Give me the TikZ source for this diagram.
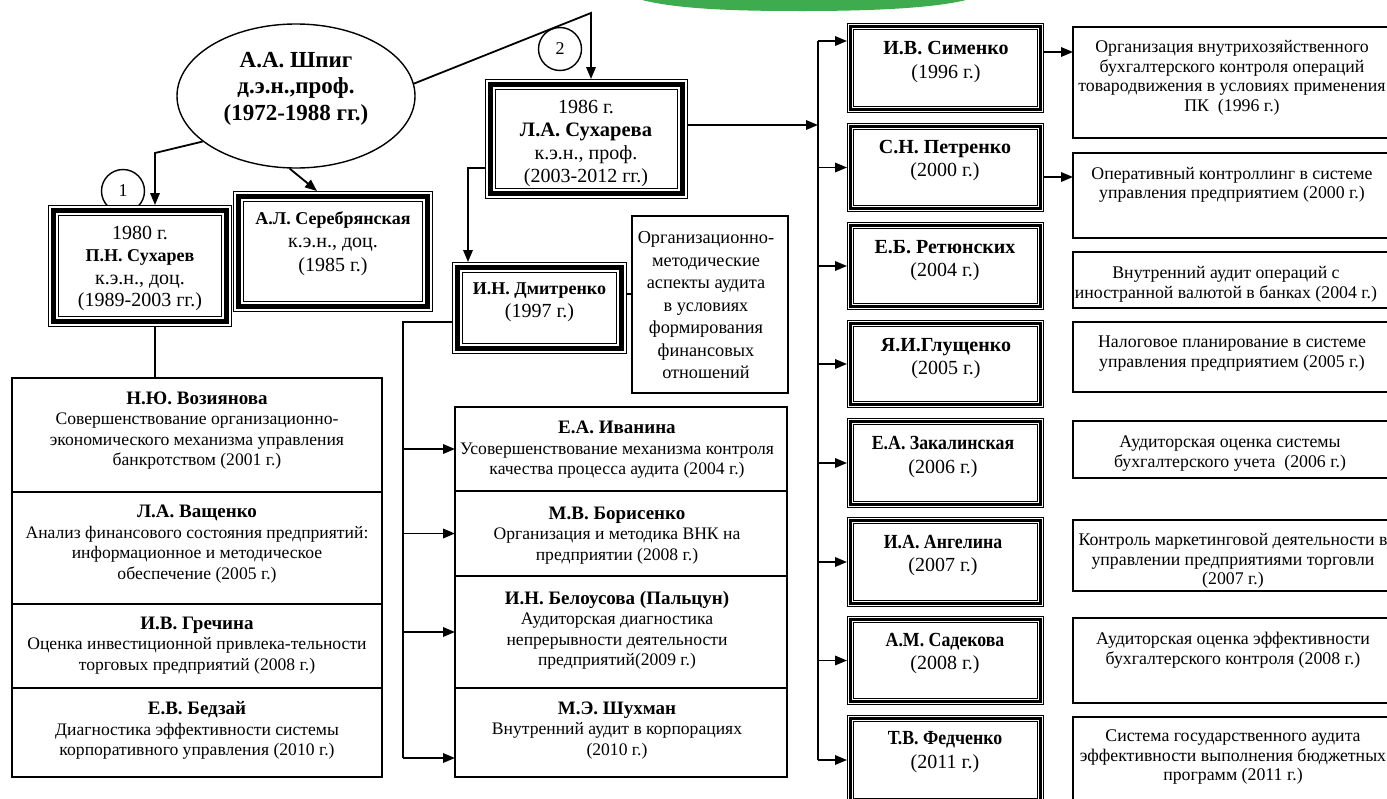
\documentclass[tikz,border=0pt]{standalone}
\usepackage{fontspec}
\usepackage{graphicx}
\setmainfont{Liberation Serif}
\usetikzlibrary{arrows.meta,calc,shapes.geometric}
\definecolor{swoosh}{RGB}{62,172,78}
\newcommand{\cnd}[1]{\scalebox{0.89}[1]{#1}}
\begin{document}
\begin{tikzpicture}[x=1pt,y=-1pt,
  heavybox/.style={draw=black, line width=5.5pt, inner sep=0pt, outer sep=5.5pt,
    preaction={draw=black, line width=11pt},
    preaction={draw=white, line width=8.5pt}},
  medbox/.style={draw=black, line width=3pt, inner sep=0pt, outer sep=3.5pt,
    preaction={draw=black, line width=7.4pt},
    preaction={draw=white, line width=5pt}},
  thinbox/.style={draw=black, line width=1.6pt, inner sep=0pt, outer sep=0pt},
  conn/.style={draw=black, line width=1.8pt},
  arr/.style={conn, -{Triangle[length=12pt,width=9.5pt]}},
  numc/.style={circle, draw=black, line width=1.4pt, minimum size=43pt, inner sep=0pt, font=\fontsize{18}{20}\selectfont},
  bigt/.style={align=center, inner sep=0pt, font=\fontsize{20}{22.5}\selectfont},
  autht/.style={align=center, inner sep=0pt, font=\fontsize{20}{23.5}\selectfont},
  desct/.style={align=center, inner sep=0pt, font=\fontsize{17.8}{19.6}\selectfont},
  stackt/.style={align=center, inner sep=0pt, font=\fontsize{17.6}{20.5}\selectfont}
]
\useasboundingbox (0,0) rectangle (1387,798);
\clip (0,0) rectangle (1387,798);
\fill[white] (0,0) rectangle (1387,798);

% green swoosh
\fill[swoosh] (642,0) .. controls (685,11) and (760,11) .. (805,11) .. controls (860,11) and (930,9) .. (966,0) -- cycle;

% ellipse and numbered circles
\node[ellipse, draw=black, line width=1.4pt, minimum width=238pt, minimum height=144pt, inner sep=0pt] (ell) at (296,96) {};
\node[align=center, inner sep=0pt, font=\fontsize{23}{26.5}\selectfont\bfseries] (ellt) at (296,88.5) {А.А. Шпиг\\д.э.н.,проф.\\(1972-1988 гг.)};
\node[numc] (c1) at (123,191) {1};
\node[numc] (c2) at (560,49) {2};

% heavy boxes
\node[heavybox, minimum width=173pt, minimum height=111pt] (suk) at (140,266) {};
\node[bigt] (sukt) at (140,268.5) {1980 г.\\{\fontsize{18}{22}\selectfont\bfseries П.Н. Сухарев}\\к.э.н., доц.\\(1989-2003 гг.)};
\node[heavybox, minimum width=189pt, minimum height=110pt] (ser) at (333,251.5) {};
\node[bigt, font=\fontsize{20}{23.5}\selectfont] (sert) at (333,243.5) {{\fontsize{18}{22}\selectfont\bfseries А.Л. Серебрянская}\\к.э.н., доц.\\(1985 г.)};
\node[heavybox, minimum width=192pt, minimum height=109pt] (lsuk) at (586.5,139) {};
\node[bigt, font=\fontsize{20}{23}\selectfont] (lsukt) at (586,143.5) {1986 г.\\{\fontsize{20.5}{22}\selectfont\bfseries Л.А. Сухарева}\\к.э.н., проф.\\(2003-2012 гг.)};
\node[heavybox, minimum width=164pt, minimum height=81pt] (dmi) at (539.5,308) {};
\node[bigt] (dmit) at (539.5,302) {{\fontsize{18}{22}\selectfont\bfseries И.Н. Дмитренко}\\(1997 г.)};

% org text box
\node[thinbox, minimum width=156pt, minimum height=177pt] (org) at (710,304.5) {};
\node[align=center, inner sep=0pt, font=\fontsize{18.3}{22.5}\selectfont] (orgt) at (706,305.5) {Организационно-\\методические\\аспекты аудита\\в условиях\\формирования\\финансовых\\отношений};

% left stacked boxes
\node[thinbox, minimum width=370pt, minimum height=114pt] (l1) at (197,435) {};
\node[thinbox, minimum width=370pt, minimum height=112pt] (l2) at (197,548) {};
\node[thinbox, minimum width=370pt, minimum height=84pt] (l3) at (197,646) {};
\node[thinbox, minimum width=370pt, minimum height=89pt] (l4) at (197,732.5) {};
\node[stackt] (l1t) at (197,430.5) {{\fontsize{19}{20}\selectfont\bfseries Н.Ю. Возиянова}\\Совершенствование организационно-\\экономического механизма управления\\банкротством (2001 г.)};
\node[stackt] (l2t) at (197,544) {{\fontsize{19}{20}\selectfont\bfseries Л.А. Ващенко}\\Анализ финансового состояния предприятий:\\информационное и методическое\\обеспечение (2005 г.)};
\node[stackt] (l3t) at (197,645.5) {{\fontsize{19}{20}\selectfont\bfseries И.В. Гречина}\\Оценка инвестиционной привлека-тельности\\торговых предприятий (2008 г.)};
\node[stackt] (l4t) at (197,730.5) {{\fontsize{19}{20}\selectfont\bfseries Е.В. Бедзай}\\Диагностика эффективности системы\\корпоративного управления (2010 г.)};

% middle stacked boxes
\node[thinbox, minimum width=332pt, minimum height=84pt] (m1) at (621,449) {};
\node[thinbox, minimum width=332pt, minimum height=85pt] (m2) at (621,533.5) {};
\node[thinbox, minimum width=332pt, minimum height=112pt] (m3) at (621,632) {};
\node[thinbox, minimum width=332pt, minimum height=89pt] (m4) at (621,732.5) {};
\node[stackt] (m1t) at (617,450) {{\fontsize{19}{20}\selectfont\bfseries Е.А. Иванина}\\Усовершенствование механизма контроля\\качества процесса аудита (2004 г.)};
\node[stackt] (m2t) at (617,535.5) {{\fontsize{19}{20}\selectfont\bfseries М.В. Борисенко}\\Организация и методика ВНК на\\предприятии (2008 г.)};
\node[stackt] (m3t) at (617,630.5) {{\fontsize{19}{20}\selectfont\bfseries И.Н. Белоусова (Пальцун)}\\Аудиторская диагностика\\непрерывности деятельности\\предприятий(2009 г.)};
\node[stackt] (m4t) at (617,730.5) {{\fontsize{19}{20}\selectfont\bfseries М.Э. Шухман}\\Внутренний аудит в корпорациях\\(2010 г.)};

% author boxes (right)
\node[medbox, minimum width=190pt, minimum height=83pt] (a1) at (945.5,68) {};
\node[medbox, minimum width=190pt, minimum height=82pt] (a2) at (945.5,167.5) {};
\node[medbox, minimum width=190pt, minimum height=81pt] (a3) at (945.5,266) {};
\node[medbox, minimum width=190pt, minimum height=81pt] (a4) at (945.5,364) {};
\node[medbox, minimum width=190pt, minimum height=83pt] (a5) at (945.5,463) {};
\node[medbox, minimum width=190pt, minimum height=83pt] (a6) at (945.5,562) {};
\node[medbox, minimum width=190pt, minimum height=82pt] (a7) at (945.5,660.5) {};
\node[medbox, minimum width=190pt, minimum height=83pt] (a8) at (945.5,760) {};
\node[autht] (a1t) at (946,62) {\textbf{И.В. Сименко}\\(1996 г.)};
\node[autht] (a2t) at (945,160.5) {\textbf{С.Н. Петренко}\\(2000 г.)};
\node[autht] (a3t) at (945,260.5) {\textbf{Е.Б. Ретюнских}\\(2004 г.)};
\node[autht] (a4t) at (946,358.5) {\textbf{Я.И.Глущенко}\\(2005 г.)};
\node[autht] (a5t) at (943,457) {\cnd{\textbf{Е.А. Закалинская}}\\(2006 г.)};
\node[autht] (a6t) at (943,555.5) {\cnd{\textbf{И.А. Ангелина}}\\(2007 г.)};
\node[autht] (a7t) at (945,653.5) {\cnd{\textbf{А.М. Садекова}}\\(2008 г.)};
\node[autht] (a8t) at (945,752) {\cnd{\textbf{Т.В. Федченко}}\\(2011 г.)};

% description boxes (far right)
\node[thinbox, minimum width=319pt, minimum height=111pt] (d1) at (1232.5,82.5) {};
\node[thinbox, minimum width=319pt, minimum height=85pt] (d2) at (1232.5,195.5) {};
\node[thinbox, minimum width=319pt, minimum height=56pt] (d3) at (1232.5,280) {};
\node[thinbox, minimum width=319pt, minimum height=70pt] (d4) at (1232.5,357) {};
\node[thinbox, minimum width=319pt, minimum height=57pt] (d5) at (1232.5,449.5) {};
\node[thinbox, minimum width=319pt, minimum height=71pt] (d6) at (1232.5,555.5) {};
\node[thinbox, minimum width=319pt, minimum height=85pt] (d7) at (1232.5,660.5) {};
\node[thinbox, minimum width=319pt, minimum height=93pt] (d8) at (1232.5,763.5) {};
\node[desct] (d1t) at (1232,78) {Организация внутрихозяйственного\\бухгалтерского контроля операций\\товародвижения в условиях применения\\ПК~~(1996 г.)};
\node[desct] (d2t) at (1232,185) {Оперативный контроллинг в системе\\управления предприятием (2000 г.)};
\node[desct] (d3t) at (1226,284.5) {Внутренний аудит операций с\\иностранной валютой в банках (2004 г.)};
\node[desct] (d4t) at (1232,353.5) {Налоговое планирование в системе\\управления предприятием (2005 г.)};
\node[desct] (d5t) at (1230,453.5) {Аудиторская оценка системы\\бухгалтерского учета~~(2006 г.)};
\node[desct] (d6t) at (1233,561) {Контроль маркетинговой деятельности в\\управлении предприятиями торговли\\(2007 г.)};
\node[desct] (d7t) at (1233,650) {Аудиторская оценка эффективности\\бухгалтерского контроля (2008 г.)};
\node[desct] (d8t) at (1233,757) {Система государственного аудита\\эффективности выполнения бюджетных\\программ (2011 г.)};

% helper coordinates
\coordinate (k1) at (155,153);
\coordinate (k2) at (591,13);
\coordinate (k3) at (468,168);
\coordinate (lb) at (403,322);
\coordinate (lb2) at (403,758);
\coordinate (rb) at (818,41);
\coordinate (j1) at (818,125);

% connectors from the ellipse
\draw[arr] (ell.206) -- (k1) -- (k1 |- suk.north);
\draw[arr] (ell.265) -- ($(ser.north west)!0.42!(ser.north east)$);
\draw[arr] (ell.6) -- (k2) -- (k2 |- lsuk.north);
\draw[conn] (k1 |- suk.south) -- (k1 |- l1.north);

% Sukhareva -> Dmitrenko
\draw[arr] (k3 -| lsuk.west) -- (k3) -- (k3 |- dmi.north);
\draw[conn] ([yshift=14pt]dmi.east) -- ([yshift=14pt]dmi.east -| org.west);

% left bus to middle boxes
\draw[conn] (lb -| dmi.west) -- (lb) -- (lb2);
\draw[arr] (lb |- m1.west) -- (m1.west);
\draw[arr] (lb |- m2.west) -- (m2.west);
\draw[arr] (lb |- m3.west) -- (m3.west);
\draw[arr] (lb2) -- (lb2 -| m4.west);

% right bus to author boxes
\draw[arr] (j1 -| lsuk.east) -- (j1);
\draw[conn] (rb) -- (rb |- a8.west);
\draw[arr] (rb) -- (rb -| a1.west);
\draw[arr] (rb |- a2.west) -- (a2.west);
\draw[arr] (rb |- a3.west) -- (a3.west);
\draw[arr] (rb |- a4.west) -- (a4.west);
\draw[arr] (rb |- a5.west) -- (a5.west);
\draw[arr] (rb |- a6.west) -- (a6.west);
\draw[arr] (rb |- a7.west) -- (a7.west);
\draw[arr] (rb |- a8.west) -- (a8.west);

% author -> description arrows
\draw[arr] ([yshift=16pt]a1.east) -- ([yshift=16pt]a1.east -| d1.west);
\draw[arr] ([yshift=-9.5pt]a2.east) -- ([yshift=-9.5pt]a2.east -| d2.west);
\end{tikzpicture}
\end{document}
